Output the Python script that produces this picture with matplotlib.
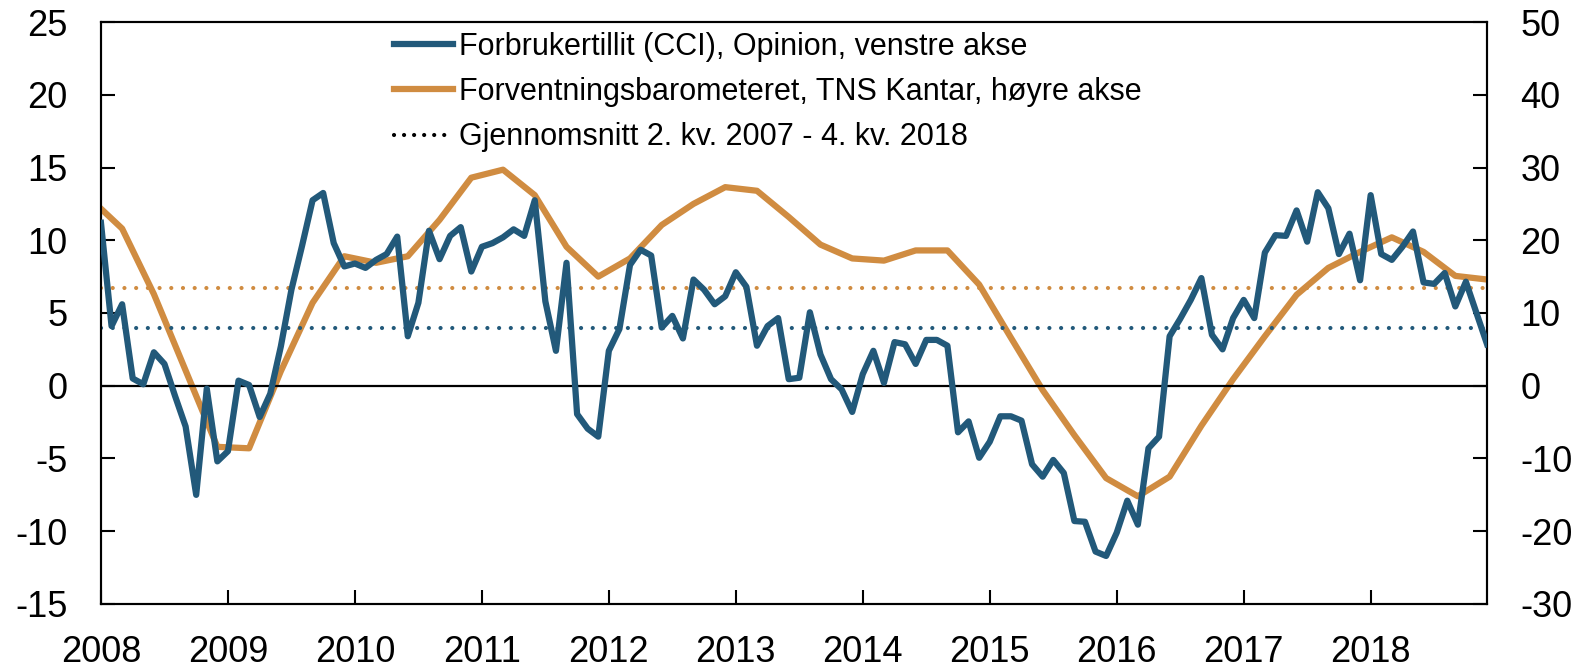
import numpy as np
import matplotlib
matplotlib.use("Agg")
import matplotlib.pyplot as plt
from matplotlib.lines import Line2D

plt.rcParams['font.family'] = ['Liberation Sans', 'DejaVu Sans']
plt.rcParams['axes.unicode_minus'] = False

# Forbrukertillit (CCI), monthly Jan 2008 - Dec 2018 (left axis)
cci = [11.2, 4.1, 5.6, 0.5, 0.1, 2.3, 1.5, -0.7, -2.8, -7.5, -0.2, -5.2,
       -4.5, 0.35, 0.05, -2.15, -0.55, 2.7, 6.6, 9.6, 12.75, 13.25, 9.8, 8.2,
       8.4, 8.1, 8.65, 9.05, 10.25, 3.4, 5.7, 10.65, 8.7, 10.3, 10.9, 7.85,
       9.55, 9.8, 10.2, 10.75, 10.3, 12.75, 5.8, 2.4, 8.45, -1.95, -2.95, -3.5,
       2.4, 3.9, 8.3, 9.35, 8.95, 4.0, 4.8, 3.25, 7.3, 6.6, 5.6, 6.15,
       7.8, 6.8, 2.75, 4.1, 4.65, 0.45, 0.55, 5.05, 2.15, 0.45, -0.25, -1.8,
       0.8, 2.4, 0.2, 3.0, 2.85, 1.5, 3.15, 3.15, 2.75, -3.2, -2.45, -4.95,
       -3.85, -2.1, -2.1, -2.4, -5.4, -6.25, -5.1, -6.0, -9.3, -9.35, -11.4, -11.7,
       -10.1, -7.9, -9.55, -4.3, -3.5, 3.4, 4.6, 5.9, 7.4, 3.5, 2.5, 4.65,
       5.9, 4.65, 9.15, 10.35, 10.3, 12.05, 9.9, 13.3, 12.2, 9.05, 10.45, 7.25,
       13.1, 9.05, 8.65, 9.55, 10.6, 7.1, 7.0, 7.75, 5.45, 7.15, 5.0, 2.85]

# Forventningsbarometeret, quarterly Q4 2007 - Q4 2018 (right axis)
fb_quarters = ["2007Q4"] + [f"{y}Q{q}" for y in range(2008, 2019) for q in range(1, 5)]
fb = [25.7, 21.6, 12.6, 2.1, -8.4,
      -8.6, 2.0, 11.4, 17.8,
      16.9, 17.8, 22.8, 28.6,
      29.7, 26.2, 19.1, 15.0,
      17.5, 22.1, 25.0, 27.3,
      26.8, 23.2, 19.4, 17.5,
      17.2, 18.6, 18.6, 13.9,
      6.6, -0.6, -6.8, -12.7,
      -15.2, -12.5, -5.5, 0.9,
      6.8, 12.5, 16.2, 18.4,
      20.4, 18.4, 15.1, 14.6]

cci_mean = 4.0
fb_mean = 13.4

years = list(range(2008, 2019))

blue = '#22597a'
orange = '#d08c41'

# month index, 0 = Jan 2008
cci_x = np.arange(len(cci))
fb_x = [(int(q[:4]) - 2008) * 12 + int(q[-1]) * 3 - 1 for q in fb_quarters]

fig = plt.figure(figsize=(15.85, 6.67), dpi=100)
ax = fig.add_axes([0.0637, 0.0945, 0.8745, 0.8725])
ax2 = ax.twinx()

dots = (0, (0.01, 2.8))
ax.axhline(0, color='black', lw=1.6, zorder=1)
ax.axhline(cci_mean, color=blue, lw=3.0, ls=dots, dash_capstyle='round', zorder=2)
ax2.axhline(fb_mean, color=orange, lw=3.0, ls=dots, dash_capstyle='round', zorder=2)
ax.plot(cci_x, cci, color=blue, lw=4.5, zorder=4)
ax2.plot(fb_x, fb, color=orange, lw=4.5, zorder=3)

ax.set_zorder(ax2.get_zorder() + 1)
ax.patch.set_visible(False)

ax.set_xlim(0, len(cci) - 1)
ax.set_ylim(-15, 25)
ax2.set_ylim(-30, 50)
ax.set_yticks(range(-15, 26, 5))
ax2.set_yticks(range(-30, 51, 10))
ax.set_xticks([(y - 2008) * 12 for y in years])
ax.set_xticklabels([str(y) for y in years])

ax.tick_params(axis='both', direction='in', labelsize=26, length=10, width=1.5)
ax.tick_params(axis='x', pad=22)
ax.tick_params(axis='y', pad=24)
ax2.tick_params(axis='y', direction='in', labelsize=26, length=10, width=1.5, pad=24)
for a in (ax, ax2):
    for s in a.spines.values():
        s.set_linewidth(1.5)

handles = [Line2D([], [], color=blue, lw=4.5),
           Line2D([], [], color=orange, lw=4.5),
           Line2D([], [], color='black', lw=3.0, ls=(0, (0.01, 2.4)), dash_capstyle='round')]
labels = ["Forbrukertillit (CCI), Opinion, venstre akse",
          "Forventningsbarometeret, TNS Kantar, høyre akse",
          "Gjennomsnitt 2. kv. 2007 - 4. kv. 2018"]
ax.legend(handles, labels, loc='upper left', bbox_to_anchor=(0.1935, 1.025), frameon=False,
          fontsize=22, handlelength=1.93, handletextpad=0.2, labelspacing=0.5,
          borderpad=0.3)

fig.savefig('out.png', dpi=100)
